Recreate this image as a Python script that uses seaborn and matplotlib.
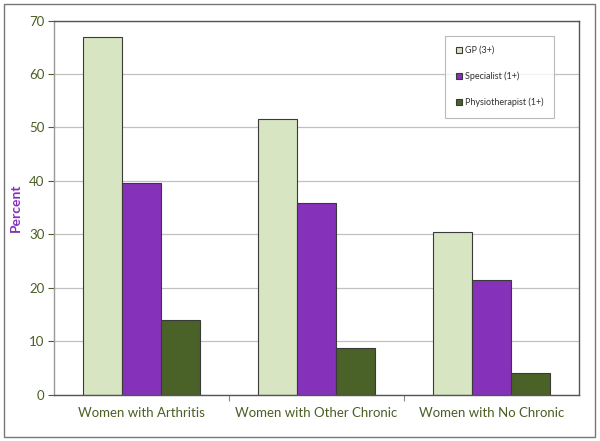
import matplotlib
matplotlib.use("Agg")
import matplotlib.pyplot as plt
import seaborn as sns
import pandas as pd
from matplotlib.patches import Rectangle

categories = ["Women with Arthritis", "Women with Other Chronic", "Women with No Chronic"]
series = ["GP (3+)", "Specialist (1+)", "Physiotherapist (1+)"]
gp = [67.0, 51.5, 30.4]
specialist = [39.6, 35.8, 21.4]
physio = [13.9, 8.7, 4.0]
colors = ["#d7e5c3", "#8531ba", "#4a6128"]
text_color = "#4b5e24"

rows = []
for name, vals in zip(series, [gp, specialist, physio]):
    for cat, v in zip(categories, vals):
        rows.append({"category": cat, "service": name, "percent": v})
df = pd.DataFrame(rows)

sns.set_style("white")
plt.rcParams["font.family"] = ["Lato", "DejaVu Sans"]

fig = plt.figure(figsize=(6, 4.41), dpi=100)
ax = fig.add_axes([0.09, 0.1054, 0.875, 0.848])

sns.barplot(data=df, x="category", y="percent", hue="service", palette=colors,
            width=0.67, edgecolor="#3a3a3a", linewidth=0.8, ax=ax, saturation=1)

ax.set_ylim(0, 70)
ax.set_xlim(-0.5, 2.5)
ax.set_yticks(range(0, 71, 10))
ax.yaxis.grid(True, color="#c0c0c0", linewidth=0.9)
ax.set_axisbelow(True)

ax.set_xlabel("")
ax.set_ylabel("Percent", color="#8531ba", fontweight="bold", fontsize=10, labelpad=5)
ax.tick_params(axis="y", colors=text_color, labelsize=9.5, length=4, width=0.8,
               left=True, direction="out", pad=3)
ax.tick_params(axis="x", colors=text_color, labelsize=9.5, length=0, pad=9)
ax.set_xticks([0.5, 1.5], minor=True)
ax.tick_params(axis="x", which="minor", bottom=True, length=4, width=0.8, color="#888888")

for s in ["top", "bottom", "right"]:
    ax.spines[s].set_color("#555555")
    ax.spines[s].set_linewidth(1.0)
ax.spines["left"].set_color("#999999")
ax.spines["left"].set_linewidth(1.0)

leg = ax.legend(loc="upper left", bbox_to_anchor=(0.745, 0.96), fontsize=6.5,
                frameon=True, fancybox=False, edgecolor="#aaaaaa", labelspacing=1.85,
                handlelength=0.7, handleheight=0.7, handletextpad=0.4,
                borderpad=1.15, borderaxespad=0)
leg.get_frame().set_linewidth(0.8)
for t in leg.get_texts():
    t.set_color("#333333")

fig.patches.append(Rectangle((4 / 600, 4 / 441), 591 / 600, 433 / 441,
                             transform=fig.transFigure, fill=False,
                             edgecolor="#777777", linewidth=1.0))

fig.savefig("out.png", dpi=100)
